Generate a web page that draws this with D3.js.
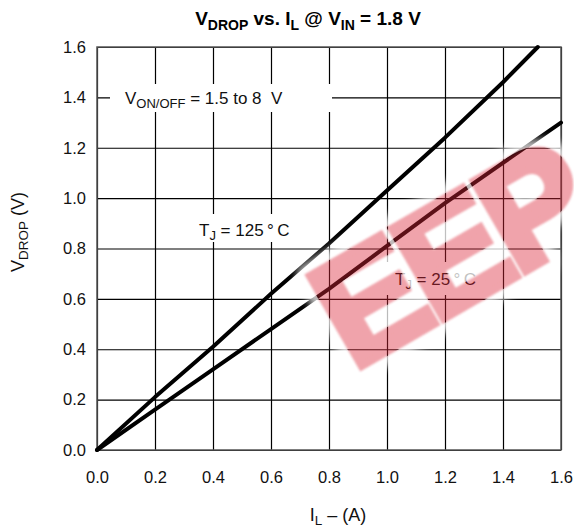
<!DOCTYPE html>
<html>
<head>
<meta charset="utf-8">
<script src="https://cdnjs.cloudflare.com/ajax/libs/d3/7.8.5/d3.min.js"></script>
<style>
    body { margin: 0; background: #fff; }
    text { font-family: "Liberation Sans", Arial, sans-serif; white-space: pre; }
</style>
</head>
<body>
<div id="chart"></div>
<script>
// load current (A) and drop voltage (V)
var currentHot = [0, 0.2, 0.4, 0.6, 0.8, 1.0, 1.2, 1.4, 1.52];
var dropHot = [0, 0.21, 0.41, 0.62, 0.82, 1.03, 1.24, 1.46, 1.6];
var currentRoom = [0, 0.2, 0.4, 0.6, 0.8, 1.0, 1.2, 1.4, 1.6];
var dropRoom = [0, 0.16, 0.32, 0.48, 0.64, 0.81, 0.98, 1.14, 1.30];

var xTicks = [0, 0.2, 0.4, 0.6, 0.8, 1.0, 1.2, 1.4, 1.6];
var yTicks = [0, 0.2, 0.4, 0.6, 0.8, 1.0, 1.2, 1.4, 1.6];

var svgWidth = 574,
    svgHeight = 529;
var margin = { left: 97, top: 47, right: 13, bottom: 79 };
var width = svgWidth - margin.left - margin.right,
    height = svgHeight - margin.top - margin.bottom;

var svg = d3.select("#chart")
    .append("svg")
    .attr("width", svgWidth)
    .attr("height", svgHeight);

var grp = svg.append("g")
    .attr("transform", "translate(" + [margin.left, margin.top] + ")");

var xScale = d3.scaleLinear().domain([0, 1.6]).range([0, width]);
var yScale = d3.scaleLinear().domain([0, 1.6]).range([height, 0]);

// grid lines
grp.append("g")
    .attr("class", "grid")
    .call(d3.axisBottom(xScale).tickValues(xTicks).tickSize(height).tickFormat(""))
    .call(function (g) {
        g.select(".domain").remove();
        g.selectAll("line").attr("stroke", "#000").attr("stroke-width", 1.2);
    });

grp.append("g")
    .attr("class", "grid")
    .call(d3.axisLeft(yScale).tickValues(yTicks).tickSize(-width).tickFormat(""))
    .call(function (g) {
        g.select(".domain").remove();
        g.selectAll("line").attr("stroke", "#000").attr("stroke-width", 1.2);
    });

// frame
grp.append("rect")
    .attr("width", width)
    .attr("height", height)
    .attr("fill", "none")
    .attr("stroke", "#555")
    .attr("stroke-width", 1.5);

// tick labels
grp.append("g")
    .attr("transform", "translate(0," + height + ")")
    .call(d3.axisBottom(xScale).tickValues(xTicks).tickSize(0).tickPadding(21).tickFormat(d3.format(".1f")))
    .call(function (g) {
        g.select(".domain").remove();
        g.selectAll("text").attr("font-size", 16.5).attr("fill", "#111")
            .style("font-family", "'Liberation Sans', Arial, sans-serif");
    });

grp.append("g")
    .call(d3.axisLeft(yScale).tickValues(yTicks).tickSize(0).tickPadding(11).tickFormat(d3.format(".1f")))
    .call(function (g) {
        g.select(".domain").remove();
        g.selectAll("text").attr("font-size", 16.5).attr("fill", "#111")
            .style("font-family", "'Liberation Sans', Arial, sans-serif");
    });

// curves
var lineGen = d3.line()
    .x(function (d) { return xScale(d[0]); })
    .y(function (d) { return yScale(d[1]); });

var series = [
    d3.zip(currentHot, dropHot),
    d3.zip(currentRoom, dropRoom)
];

grp.selectAll("path.curve")
    .data(series)
    .enter()
    .append("path")
    .attr("class", "curve")
    .attr("d", lineGen)
    .attr("fill", "none")
    .attr("stroke", "#000")
    .attr("stroke-width", 4)
    .attr("stroke-linejoin", "round")
    .attr("stroke-linecap", "round");

// annotation with white box behind it
function note(x, y, parts, box) {
    var g = svg.append("g");
    g.append("rect")
        .attr("x", box[0]).attr("y", box[1])
        .attr("width", box[2]).attr("height", box[3])
        .attr("fill", "#fff");
    var t = g.append("text")
        .attr("x", x).attr("y", y)
        .attr("font-size", 17)
        .attr("fill", "#111");
    parts.forEach(function (p) {
        var s = t.append("tspan").text(p.text);
        if (p.sub) s.attr("font-size", 13).attr("dy", 4);
        if (p.up) s.attr("dy", -4);
    });
}

note(125, 104, [{ text: "V" }, { text: "ON/OFF", sub: true }, { text: " = 1.5 to 8  V", up: true }], [110, 84, 222, 28]);
note(199, 236, [{ text: "T" }, { text: "J", sub: true }, { text: " = 125\u2009\u00b0\u2009C", up: true }], [190, 214, 112, 28]);
note(395, 285, [{ text: "T" }, { text: "J", sub: true }, { text: " = 25\u2009\u00b0\u2009C", up: true }], [386, 262, 102, 33]);

// title
var title = svg.append("text")
    .attr("x", 308).attr("y", 25)
    .attr("text-anchor", "middle")
    .attr("font-size", 19)
    .attr("font-weight", "bold");
title.append("tspan").text("V");
title.append("tspan").text("DROP").attr("font-size", 14).attr("dy", 5);
title.append("tspan").text(" vs. I").attr("dy", -5);
title.append("tspan").text("L").attr("font-size", 14).attr("dy", 5);
title.append("tspan").text(" @ V").attr("dy", -5);
title.append("tspan").text("IN").attr("font-size", 14).attr("dy", 5);
title.append("tspan").text(" = 1.8 V").attr("dy", -5);

// axis titles
var yTitle = svg.append("text")
    .attr("transform", "translate(24,232) rotate(-90)")
    .attr("text-anchor", "middle")
    .attr("font-size", 18)
    .attr("fill", "#111");
yTitle.append("tspan").text("V");
yTitle.append("tspan").text("DROP").attr("font-size", 13.5).attr("dy", 4);
yTitle.append("tspan").text(" (V)").attr("dy", -4);

var xTitle = svg.append("text")
    .attr("x", 338).attr("y", 521)
    .attr("text-anchor", "middle")
    .attr("font-size", 18)
    .attr("fill", "#111");
xTitle.append("tspan").text("I");
xTitle.append("tspan").text("L").attr("font-size", 13.5).attr("dy", 4);
xTitle.append("tspan").text(" \u2013 (A)").attr("dy", -4);

// watermark: soft white halo outside the letters, then translucent red letters
var defs = svg.append("defs");
var halo = defs.append("filter").attr("id", "halo")
    .attr("x", "-20%").attr("y", "-20%").attr("width", "140%").attr("height", "140%");
halo.append("feMorphology").attr("in", "SourceGraphic").attr("operator", "dilate")
    .attr("radius", 7).attr("result", "fat");
halo.append("feGaussianBlur").attr("in", "fat").attr("stdDeviation", 4).attr("result", "glow");
halo.append("feComposite").attr("in", "glow").attr("in2", "SourceAlpha").attr("operator", "out");

defs.append("filter").attr("id", "soft")
    .append("feGaussianBlur").attr("stdDeviation", 0.8);

var wmTransform = "translate(353,371) rotate(-30)";

svg.append("g")
    .attr("opacity", 0.75)
    .attr("filter", "url(#halo)")
    .append("text")
    .attr("transform", wmTransform)
    .attr("font-size", 151)
    .attr("font-weight", "bold")
    .attr("letter-spacing", -6)
    .attr("fill", "#fff")
    .attr("stroke", "#fff")
    .attr("stroke-width", 8)
    .text("EEP");

svg.append("g")
    .attr("opacity", 0.42)
    .attr("filter", "url(#soft)")
    .append("text")
    .attr("transform", wmTransform)
    .attr("font-size", 151)
    .attr("font-weight", "bold")
    .attr("letter-spacing", -6)
    .attr("fill", "rgb(220,40,55)")
    .attr("stroke", "rgb(220,40,55)")
    .attr("stroke-width", 8)
    .attr("stroke-linejoin", "miter")
    .text("EEP");
</script>
</body>
</html>
